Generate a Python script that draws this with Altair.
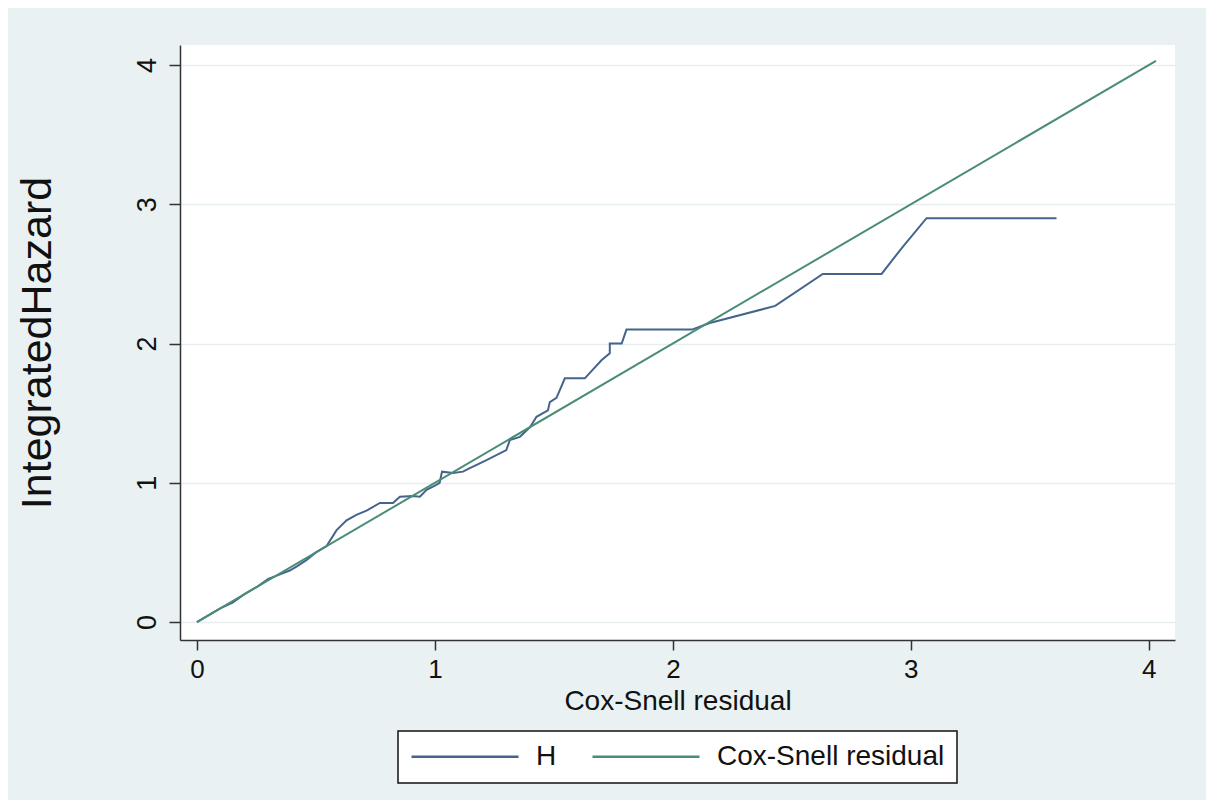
import altair as alt
import pandas as pd

# Nelson-Aalen cumulative hazard of Cox-Snell residuals
h_x = [0, 0.05, 0.1, 0.15, 0.2, 0.25, 0.3, 0.33, 0.36, 0.39, 0.42, 0.46, 0.5,
       0.545, 0.587, 0.629, 0.67, 0.713, 0.769, 0.824, 0.853, 0.908, 0.937,
       0.965, 1.0, 1.02, 1.03, 1.076, 1.118, 1.147, 1.217, 1.30, 1.315, 1.357,
       1.40, 1.427, 1.475, 1.483, 1.511, 1.525, 1.546, 1.63, 1.70, 1.735,
       1.735, 1.785, 1.805, 2.08, 2.155, 2.43, 2.63, 2.877, 2.966, 3.066, 3.612]
h_y = [0, 0.05, 0.1, 0.14, 0.2, 0.25, 0.31, 0.33, 0.35, 0.37, 0.40, 0.445, 0.5,
       0.546, 0.66, 0.73, 0.77, 0.80, 0.855, 0.855, 0.90, 0.905, 0.90,
       0.95, 0.98, 1.0, 1.08, 1.07, 1.08, 1.105, 1.163, 1.235, 1.307, 1.33,
       1.40, 1.474, 1.52, 1.58, 1.61, 1.666, 1.75, 1.75, 1.88, 1.93,
       2.0, 2.0, 2.10, 2.10, 2.147, 2.27, 2.50, 2.50, 2.695, 2.90, 2.90]

# Reference 45-degree line of the Cox-Snell residual
ref_x = [0, 4.03]
ref_y = [0, 4.03]

series_names = ["H", "Cox-Snell residual"]
series_colors = ["#45648c", "#4a8c78"]
tick_values = [0, 1, 2, 3, 4]

rows = []
for i, (x, y) in enumerate(zip(h_x, h_y)):
    rows.append({"series": "H", "x": x, "y": y, "idx": i})
for i, (x, y) in enumerate(zip(ref_x, ref_y)):
    rows.append({"series": "Cox-Snell residual", "x": x, "y": y, "idx": i})
df = pd.DataFrame(rows)

LABEL_FONT = "Liberation Sans"

chart = alt.Chart(df).mark_line(strokeWidth=2).encode(
    x=alt.X(
        "x:Q",
        scale=alt.Scale(domain=[-0.071, 4.11], nice=False, zero=False),
        axis=alt.Axis(
            values=tick_values, grid=False, title="Cox-Snell residual",
            tickSize=10, tickWidth=1.5, tickColor="#333333",
            domainColor="#333333", domainWidth=1.5,
            labelFont=LABEL_FONT, labelFontSize=26, labelColor="#111111",
            labelPadding=6,
            titleFont=LABEL_FONT, titleFontSize=28, titleFontWeight="normal",
            titleColor="#111111", titleX=497.5, titleY=69,
            titleBaseline="alphabetic", titleAlign="center",
        ),
    ),
    y=alt.Y(
        "y:Q",
        scale=alt.Scale(domain=[-0.129, 4.144], nice=False, zero=False),
        axis=alt.Axis(
            values=tick_values, grid=True, gridColor="#e6eef1", gridWidth=1.5,
            title="IntegratedHazard",
            tickSize=11, tickWidth=1.5, tickColor="#333333",
            domainColor="#333333", domainWidth=1.5,
            labelFont=LABEL_FONT, labelFontSize=27, labelColor="#111111",
            labelAngle=270, labelPadding=8,
            titleFont=LABEL_FONT, titleFontSize=43, titleFontWeight="normal",
            titleColor="#111111", titleAngle=270, titleX=-130, titleY=297.5,
            titleBaseline="alphabetic", titleAlign="center",
        ),
    ),
    color=alt.Color(
        "series:N",
        scale=alt.Scale(domain=series_names, range=series_colors),
        legend=alt.Legend(
            orient="none", legendX=218, legendY=686, direction="horizontal",
            title=None, symbolType="stroke", symbolSize=11449,
            symbolStrokeWidth=2.5, clipHeight=27,
            labelFont=LABEL_FONT, labelFontSize=28, labelColor="#111111",
            labelLimit=0, labelOffset=16, columnPadding=34, padding=12,
            strokeColor="#111111", fillColor="white", cornerRadius=0,
        ),
    ),
    order="idx:Q",
).properties(
    width=995,
    height=595,
    background="#e9f1f3",
    padding={"left": 172, "top": 37, "right": 31, "bottom": 160},
    autosize=alt.AutoSizeParams(type="none"),
).configure_view(
    fill="white", strokeWidth=0
).configure_legend(
    strokeWidth=1.5
)

chart.save("out.html", embed_options={"renderer": "svg", "actions": False})
